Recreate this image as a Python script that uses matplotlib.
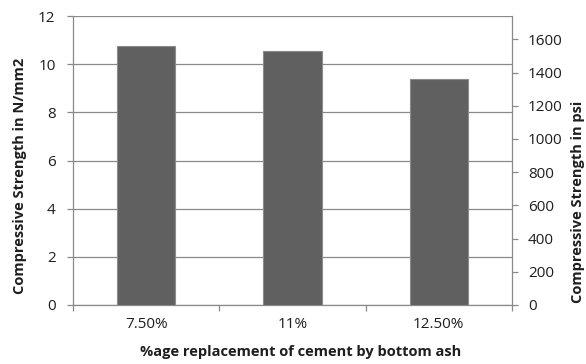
import matplotlib
matplotlib.use("Agg")
import matplotlib.pyplot as plt
import numpy as np

plt.rcParams["font.family"] = ["Open Sans", "DejaVu Sans"]

categories = ["7.50%", "11%", "12.50%"]
strength_nmm2 = [10.74, 10.53, 9.38]
left_ticks = [0, 2, 4, 6, 8, 10, 12]
right_ticks = [0, 200, 400, 600, 800, 1000, 1200, 1400, 1600]
PSI_PER_NMM2 = 145.04

W, H = 586, 364
fig = plt.figure(figsize=(W / 100, H / 100), dpi=100)
ax = fig.add_axes([73 / W, (H - 305) / H, (512 - 73) / W, (305 - 16) / H])

grid_c = "#8a8a8a"
text_c = "#1e1e1e"
tick_fs = 11

x = np.arange(len(categories))
ax.bar(x, strength_nmm2, width=0.4, color="#606060", edgecolor="#8c8c8c",
       linewidth=0.8, zorder=3)

ax.set_xlim(-0.5, len(categories) - 0.5)
ax.set_ylim(0, 12)
ax.set_yticks(left_ticks)
ax.yaxis.grid(True, color=grid_c, linewidth=0.9, zorder=0)
ax.set_axisbelow(True)

ax.set_xticks(x)
ax.set_xticklabels(categories)
ax.set_xticks(np.arange(len(categories) + 1) - 0.5, minor=True)
ax.tick_params(axis="x", which="major", length=0, pad=9, labelsize=tick_fs,
               labelcolor=text_c)
ax.tick_params(axis="x", which="minor", length=4.5, color=grid_c, width=0.9,
               direction="out")
ax.tick_params(axis="y", length=4.5, color=grid_c, width=0.9, pad=8,
               labelsize=tick_fs, labelcolor=text_c)

for side in ["top", "right"]:
    ax.spines[side].set_visible(False)
ax.spines["left"].set_color(grid_c)
ax.spines["bottom"].set_color(grid_c)
ax.spines["left"].set_linewidth(0.9)
ax.spines["bottom"].set_linewidth(0.9)

ax2 = ax.twinx()
ax2.set_ylim(0, 12 * PSI_PER_NMM2)
ax2.set_yticks(right_ticks)
ax2.tick_params(axis="y", length=4.5, color=grid_c, width=0.9, pad=7,
                labelsize=tick_fs, labelcolor=text_c)
for side in ["top", "left", "bottom"]:
    ax2.spines[side].set_visible(False)
ax2.spines["right"].set_color(grid_c)
ax2.spines["right"].set_linewidth(0.9)

fig.text(20 / W, 1 - 176 / H, "Compressive Strength in N/mm2", rotation=90,
         ha="center", va="center", fontsize=10.5, fontweight="bold",
         color=text_c)
fig.text(578 / W, 1 - 202 / H, "Compressive Strength in psi", rotation=90,
         ha="center", va="center", fontsize=10.5, fontweight="bold",
         color=text_c)
fig.text(301 / W, 1 - 352 / H, "%age replacement of cement by bottom ash",
         ha="center", va="center", fontsize=10.5, fontweight="bold",
         color=text_c)

fig.savefig("out.png", dpi=100, facecolor="white")
